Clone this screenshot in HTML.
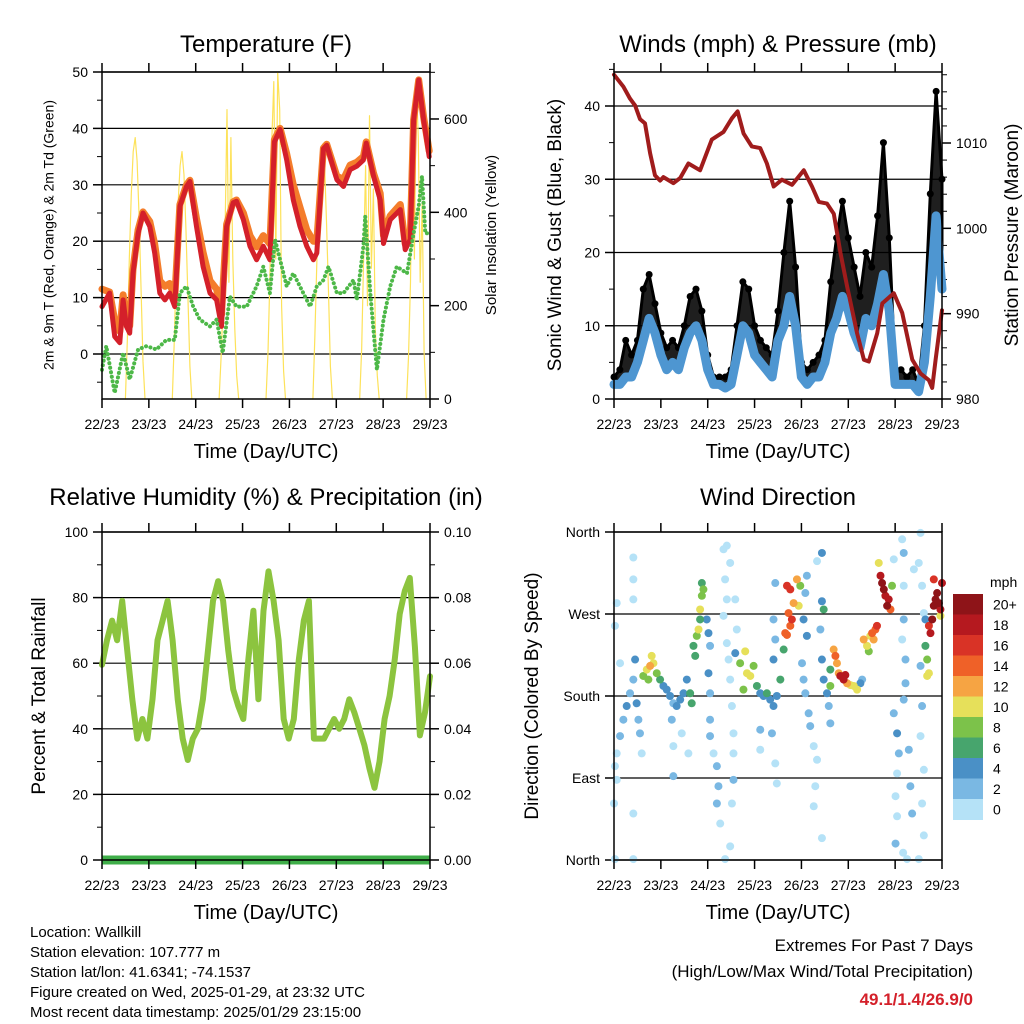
<!DOCTYPE html>
<html><head><meta charset="utf-8"><title>Station Weather Summary</title>
<style>
html,body{margin:0;padding:0;background:#fff;}
svg{display:block;font-family:"Liberation Sans",Arial,sans-serif;}
</style></head>
<body>
<svg id="chart" width="1024" height="1024" viewBox="0 0 1024 1024" xmlns="http://www.w3.org/2000/svg">
<rect x="0" y="0" width="1024" height="1024" fill="#fff"/>
</svg>
<script>
// ---------- DATA ----------
const dayLabels = ["22/23","23/23","24/23","25/23","26/23","27/23","28/23","29/23"];
const totalHours = 168;

const tempHours = [0,3.9,6.5,9.1,10.8,12.5,14.2,15.9,18.5,21,24.5,27,29.6,32.2,34.7,37.3,39.9,43.3,45,48.4,51.8,55.3,58.7,61.2,63.8,67.2,68.9,72.4,75.8,79.2,82.6,86,88.3,91.2,94.6,98,101.4,104.9,108.3,110,113.4,115.1,120.3,123.7,127.1,130.5,133.9,135.3,139.1,142.5,144.2,147.6,152.8,155.3,157.9,159.6,162.2,164.7,167.6];
const temp2m = [8.4,10.8,3.1,2,9.6,4.9,3.7,14.3,21.4,25,22.6,17.9,10.8,9.6,10.8,8.4,26.2,29.7,30.6,22.6,15.5,10.8,9.6,4.9,22.6,26.8,27.1,23.8,19.1,16.7,19.1,16.7,37.6,39.8,34.4,27.3,22.6,19.1,16.7,17.9,36.4,37,30.9,29.7,32.7,33.3,34.4,37.4,31.5,27.3,19.6,23.8,25.6,18.5,20.3,41.5,48.6,41.5,35];
const temp9m = [11.5,11,6,4,10.5,6.5,5,15,22,25.2,23.5,19.5,13,12,12.5,10,26.5,30,30.8,24,18,13,11.5,7,23,27,27.3,25,21,19,21,19.5,38,40,35.5,30,26,22,20,20,36.5,37.2,31.5,31,33.5,34,35,37.6,32,28.5,21,24.5,26.5,19.5,21,41.5,48.6,42,36];
const dewHours = [0,2.2,6.5,10.8,14.2,18.5,22.8,27.9,33,37.3,39.9,43.3,46.7,50.1,55.3,58.7,61.8,65.5,68.9,74.1,79.2,82.6,86,88.6,91.2,94.6,98,103.1,106.6,110,113.4,116,120.3,123.7,128.8,130.5,133.9,134.8,137.4,140.8,144.2,147.6,151,156.2,159.6,162.2,163.9,165.6,167.6];
const dew2m = [-2.8,1.4,-6.9,0.2,-4.5,0.8,1.4,0.8,2.5,2.5,10.8,12,8.4,6.1,4.9,6.1,0.2,10.2,8.4,8.4,12,15.5,10.8,20.3,16.7,12,14.3,10.8,8.4,12,13.1,15.5,10.8,10.8,13.1,9.6,19.1,24.4,10.8,-2.8,6.1,12,15.5,14.3,21.4,26.2,31.5,21.4,21.4];

const solarRiseHour = [12,36,60,84,108,132,156];
const solarDay0 = [0,130,300,440,530,560,510,390,240,80,0];
const solarDay1 = [0,120,280,420,500,530,480,360,220,70,0];
const solarDay2 = [0,90,200,350,620,250,560,300,150,50,0];
const solarDay3 = [0,100,260,560,680,300,700,620,200,60,0];
const solarDay4 = [0,130,290,430,520,546,500,380,230,70,0];
const solarDay5 = [0,110,300,500,200,607,280,450,150,50,0];
const solarDay6 = [0,90,250,600,300,675,560,250,420,100,0];

const windStepHours = 3;
const windSonic = [2,2,3,3,5,8,11,9,6,4,5,4,7,9,10,8,4,2,2,1.5,2,6,10,9,6,5,4,3,8,10,14,10,3,2,3,3,5,9,11,14,12,9,7,11,10,13,17,12,2,2,2,2,1,5,14,25,15];
const windGust = [3,4,8,6,8,15,17,13,9,7,8,7,10,14,15,12,6,3,3,3,4,10,16,15,10,8,7,6,12,20,27,18,5,4,5,6,8,16,22,27,22,18,14,20,18,25,35,22,4,4,3,4,2,10,28,42,30];

const presHours = [0,4.8,8.2,10.8,13.3,15.9,18.5,21,23.6,25.3,30.4,33.9,38.1,44.1,50.1,56.1,60.4,63.3,66.4,70.6,74.9,78.3,81.8,86,91.2,97.2,101.4,104.9,109.1,112.6,116,119.4,124.5,128,130.5,134.8,137.4,143.3,147.6,152.8,157,161.3,163,164.7,168];
const presMb = [1018,1016.6,1015.2,1014.4,1012.8,1012.3,1008.8,1006.2,1005.6,1006,1005.3,1005.9,1007.6,1006.8,1010.4,1011.3,1012.9,1013.7,1011.1,1009.6,1009.4,1007.6,1004.9,1005.7,1005.1,1006.8,1004.9,1003.1,1002.9,1001.7,997.1,993.2,987.7,984.6,984.4,987.7,991.2,992.4,990.1,984.6,983,982.2,981.3,984.6,990.4];

const rhValues = [59.5,67,73,67,79,64,49,37,43,37,49,67,73,79,67,49,37,30.5,37,40,49,64,79,85,79,64,52,47,43,61,76,49,76,88,79,67,43,37,43,61,73,79,37,37,37,40,43,40,43,49,45,40,35,28,22,30,43,50,61,75,82,86,65,38,45,56];
const precipStart = [0, 0];
const precipHours = [0, 168];

const wdHours = [0.5,1.4,3.1,4.8,6.5,8.2,9.9,10.8,11.6,12.5,13.3,14.2,9.9,9.9,9.9,1.4,0.5,3.1,0,9.9,1.4,0.5,9.9,
15,16.8,18.5,19.3,20.2,21.9,17.6,23.6,25.3,27,28.7,30.4,32.1,33.9,35.6,37.3,39,39.8,29.6,34.7,30.4,30.4,38.1,
40.7,42.4,43.3,44.1,45,45,44.1,45.8,41.6,47.5,48.4,49.2,48.4,49.2,49.2,49.2,51,52.7,53.5,52.7,54.4,56.1,57.8,59.5,56.9,57.8,56.1,57.8,58.7,59.5,60.4,61.2,61.2,61.2,60.4,59.5,56.9,62.1,62.9,62.1,
64.6,67.2,68.1,69.8,66.3,71.5,73.2,74.9,76.6,78.3,80,81.7,83.4,85.2,74.9,80.9,74.9,82.6,83.4,82.6,81.7,82.6,81.7,86.9,87.7,
88.6,90.3,89.4,91.1,92,93.7,94.6,95.4,90.3,88.6,97.1,98,98.8,98.8,96.3,97.1,98,99.7,100.5,102.3,104,103.1,102.3,106.5,104,106.5,106.5,107.4,105.7,106.5,107.4,109.1,110,110.8,
110.8,112.5,113.4,114.2,115.1,110.8,115.9,117.6,118.5,119.4,121.1,122.8,124.5,126.2,127.1,
127.9,129.6,130.5,132.2,133.9,134.7,133,131.3,
135.6,136.5,137.3,138.2,139,139.9,140.7,141.6,142.4,143.3,147.6,148.4,148.4,148.4,147.6,149.3,149.3,148.4,143.3,145,145.9,145,144.2,145,144.2,151,151.8,152.7,153.6,156.1,157,157.8,158.7,157,157.8,157,158.7,157.8,158.7,150.1,156.1,148.1,
159.5,159.5,160.4,161.3,160.4,162.1,163,163.8,164.7,165.5,166.4,167.2,168,163.8,161.3,167.2];
const wdDegrees = [103,117,136,154,169,183,198,220,172,154,139,117,332,308,286,282,257,216,62,51,88,1,1,
202,209,213,224,216,205,198,198,191,187,180,172,169,176,183,198,183,172,154,139,125,92,117,
235,246,253,264,290,304,275,297,224,264,249,235,205,183,154,136,117,103,81,62,40,341,345,326,308,286,268,238,220,198,169,139,117,88,62,15,1,286,253,227,
216,229,205,202,187,213,191,183,180,183,176,169,180,198,143,139,121,106,84,304,264,242,220,231,249,
301,297,271,264,282,308,279,301,257,247,264,293,312,246,216,198,183,161,147,125,110,81,59,24,328,337,284,275,253,220,198,183,169,150,
209,231,224,216,205,191,202,198,203,194,192,191,187,194,198,
242,235,229,249,253,257,242,246,
326,312,304,297,290,279,286,275,301,330,352,337,301,264,242,220,194,176,161,139,117,95,70,48,18,121,81,51,319,326,359,301,271,213,169,136,99,62,27,1,1,8,
264,235,220,205,202,249,264,279,286,293,282,275,304,308,257,268];
const wdSpeed = [1,1,2,3,4,3,2,4,4,2,3,1,0,0,0,1,1,1,0,1,1,0,0,
8,10,12,10,11,9,9,6,5,5,4,3,4,4,5,4,7,6,2,1,1,2,0,
7,9,10,7,9,7,10,8,6,4,4,3,4,3,2,2,1,2,2,2,1,0,0,0,0,0,0,1,1,1,1,1,0,2,0,0,0,0,1,4,
8,10,10,10,9,8,6,5,5,6,4,4,5,6,3,2,1,0,0,3,3,3,4,7,14,
16,17,14,16,12,12,10,8,15,15,4,3,2,4,3,3,3,2,2,1,1,0,0,1,0,4,4,6,3,4,4,4,2,3,
7,12,14,13,12,8,18,19,18,12,11,11,10,5,3,
12,10,9,14,14,17,12,11,
11,18,20,21,19,20,18,14,8,0,0,2,1,2,1,2,3,2,2,4,3,1,1,1,3,3,3,2,1,1,0,1,1,2,3,1,1,1,1,0,0,0,
4,6,9,10,10,18,20,21,22,21,20,18,18,16,17,10];
const speedBinLabels = ["20+","18","16","14","12","10","8","6","4","2","0"];
const extremesText = "49.1/1.4/26.9/0";

// ---------- HELPERS ----------
const NS = "http://www.w3.org/2000/svg";
const svg = document.getElementById('chart');
function mk(tag, attrs, name, parent) {
  const el = document.createElementNS(NS, tag);
  for (const k in attrs) el.setAttribute(k, attrs[k]);
  
  
  (parent || svg).appendChild(el);
  return el;
}
function txt(x, y, s, size, anchor, name, extra) {
  const a = {x: x, y: y, 'font-size': size, 'text-anchor': anchor || 'middle', fill: '#000'};
  if (extra) for (const k in extra) a[k] = extra[k];
  const t = mk('text', a, name);
  t.textContent = s;
  return t;
}
function vtxt(x, y, s, size, name) {
  return txt(x, y, s, size, 'middle', name, {transform: 'rotate(-90 ' + x + ' ' + y + ')', 'dominant-baseline': 'middle'});
}
function line(x1, y1, x2, y2, stroke, w, name) {
  return mk('line', {x1: x1, y1: y1, x2: x2, y2: y2, stroke: stroke, 'stroke-width': w}, name);
}
function poly(xs, ys, stroke, w, name, extra) {
  let d = '';
  for (let i = 0; i < xs.length; i++) d += (i ? 'L' : 'M') + xs[i].toFixed(1) + ' ' + ys[i].toFixed(1);
  const a = {d: d, fill: 'none', stroke: stroke, 'stroke-width': w, 'stroke-linejoin': 'round', 'stroke-linecap': 'round'};
  if (extra) for (const k in extra) a[k] = extra[k];
  return mk('path', a, name);
}

const P1 = {l: 102, r: 430, t: 72, b: 399};
const P2 = {l: 614, r: 942, t: 72, b: 399};
const P3 = {l: 102, r: 430, t: 532, b: 860};
const P4 = {l: 614, r: 942, t: 532, b: 860};
function xScale(P) { return h => P.l + h / totalHours * (P.r - P.l); }

function xAxis(P, key) {
  for (let i = 0; i < dayLabels.length; i++) {
    const x = P.l + i * (P.r - P.l) / 7;
    line(x, P.b, x, P.b + 9, '#000', 1.5, key + '-x-tick');
    line(x, P.t, x, P.t - 9, '#000', 1.5, key + '-x-tick-top');
    txt(x, P.b + 30, dayLabels[i], 14, 'middle', key + '-x-tick-label');
  }
  txt((P.l + P.r) / 2, P.b + 59, 'Time (Day/UTC)', 20, 'middle', key + '-x-axis-title');
}
function frame(P, key) {
  mk('rect', {x: P.l, y: P.t, width: P.r - P.l, height: P.b - P.t, fill: 'none', stroke: '#000', 'stroke-width': 1.5}, key + '-frame');
}
function yAxisLeft(P, ticks, labels, yf, minor, key, grid) {
  minor.forEach(v => line(P.l - 5, yf(v), P.l, yf(v), '#000', 1, key + '-y-minor-tick'));
  ticks.forEach((v, i) => {
    line(P.l - 9, yf(v), P.l, yf(v), '#000', 1.5, key + '-y-tick');
    if (grid) line(P.l, yf(v), P.r, yf(v), '#000', 1.2, key + '-gridline');
    txt(P.l - 14, yf(v) + 5, labels[i], 14, 'end', key + '-y-tick-label');
  });
}
function yAxisRight(P, ticks, labels, yf, minor, key) {
  minor.forEach(v => line(P.r, yf(v), P.r + 5, yf(v), '#000', 1, key + '-y2-minor-tick'));
  ticks.forEach((v, i) => {
    line(P.r, yf(v), P.r + 9, yf(v), '#000', 1.5, key + '-y2-tick');
    txt(P.r + 14, yf(v) + 5, labels[i], 14, 'start', key + '-y2-tick-label');
  });
}
function range(a, b, s) { const r = []; for (let v = a; v <= b + 1e-9; v += s) r.push(+v.toFixed(4)); return r; }

// ---------- PANEL 1: TEMPERATURE ----------
(function () {
  const X = xScale(P1);
  const Y = v => 354 - v * 5.64;
  const YS = v => 399 - v * 0.4667;
  txt(266, 52, 'Temperature (F)', 24, 'middle', 'temperature-title');
  yAxisLeft(P1, [0,10,20,30,40,50], ['0','10','20','30','40','50'], Y, range(-5, 45, 10), 'temp', true);
  yAxisRight(P1, [0,200,400,600], ['0','200','400','600'], YS, [100,300,500,700].filter(v=>YS(v)>=P1.t), 'solar');
  const solarDays = [solarDay0, solarDay1, solarDay2, solarDay3, solarDay4, solarDay5, solarDay6];
  solarDays.forEach((arr, d) => {
    poly(arr.map((_, i) => X(solarRiseHour[d] + i)), arr.map(v => YS(v)), '#fde25a', 1.2, 'solar-insolation-line');
  });
  poly(tempHours.map(X), temp9m.map(Y), '#f47d2b', 7, 'temp-9m-line');
  poly(tempHours.map(X), temp2m.map(Y), '#d4202a', 5, 'temp-2m-line');
  poly(dewHours.map(X), dew2m.map(Y), '#4db848', 4, 'dewpoint-2m-line', {'stroke-dasharray': '0.1 4.5'});
  frame(P1, 'temp');
  xAxis(P1, 'temp');
  vtxt(50, 235, '2m & 9m T (Red, Orange) & 2m Td (Green)', 14, 'temp-y-axis-title');
  vtxt(492, 235, 'Solar Insolation (Yellow)', 15, 'solar-y-axis-title');
})();

// ---------- PANEL 2: WINDS & PRESSURE ----------
(function () {
  const X = xScale(P2);
  const Y = v => 399 - v * 7.325;
  const YP = v => 399 - (v - 980) * 8.533;
  txt(778, 52, 'Winds (mph) & Pressure (mb)', 24, 'middle', 'winds-title');
  yAxisLeft(P2, [0,10,20,30,40], ['0','10','20','30','40'], Y, range(5, 45, 5).filter(v => v % 10), 'wind', true);
  yAxisRight(P2, [980,990,1000,1010], ['980','990','1000','1010'], YP, range(982, 1018, 2).filter(v => v % 10), 'pressure');
  const hrs = windGust.map((_, i) => i * windStepHours);
  let d = '';
  hrs.forEach((h, i) => { d += (i ? 'L' : 'M') + X(h).toFixed(1) + ' ' + Y(windGust[i]).toFixed(1); });
  for (let i = hrs.length - 1; i >= 0; i--) d += 'L' + X(hrs[i]).toFixed(1) + ' ' + Y(windSonic[i]).toFixed(1);
  mk('path', {d: d + 'Z', fill: '#000', 'fill-opacity': 0.88, stroke: '#000', 'stroke-width': 3, 'stroke-linejoin': 'round'}, 'gust-cloud');
  hrs.forEach((h, i) => mk('circle', {cx: X(h), cy: Y(windGust[i]), r: 3.5, fill: '#000'}, 'gust-point'));
  poly(hrs.map(X), windSonic.map(Y), '#4e96d1', 9, 'sonic-wind-line');
  poly(presHours.map(X), presMb.map(YP), '#a01c1c', 4, 'pressure-line');
  frame(P2, 'wind');
  xAxis(P2, 'wind');
  vtxt(556, 235, 'Sonic Wind & Gust (Blue, Black)', 19, 'wind-y-axis-title');
  vtxt(1013, 235, 'Station Pressure (Maroon)', 19, 'pressure-y-axis-title');
})();

// ---------- PANEL 3: RH & PRECIP ----------
(function () {
  const X = xScale(P3);
  const Y = v => 860 - v * 3.28;
  const YR = v => 860 - v * 3280;
  txt(266, 505, 'Relative Humidity (%) & Precipitation (in)', 24, 'middle', 'humidity-title');
  yAxisLeft(P3, [0,20,40,60,80,100], ['0','20','40','60','80','100'], Y, range(10, 90, 20), 'rh', true);
  yAxisRight(P3, [0,0.02,0.04,0.06,0.08,0.1], ['0.00','0.02','0.04','0.06','0.08','0.10'], YR, range(0.01, 0.09, 0.02), 'precip');
  const step = totalHours / (rhValues.length - 1);
  poly(rhValues.map((_, i) => X(i * step)), rhValues.map(Y), '#8cc43f', 6, 'humidity-line');
  poly(precipHours.map(X), precipStart.map(YR), '#3fae49', 9, 'precipitation-line', {'stroke-linecap': 'butt'});
  frame(P3, 'rh');
  xAxis(P3, 'rh');
  vtxt(40, 696, 'Percent & Total Rainfall', 19, 'rh-y-axis-title');
})();

// ---------- PANEL 4: WIND DIRECTION ----------
(function () {
  const X = xScale(P4);
  const Y = v => 860 - v / 360 * 328;
  const binColors = ['#b5e2f7','#7ab8e3','#4a90c6','#47a56d','#7cc24a','#e6e05a','#f6a443','#ef6128','#d93326','#b5191f','#8e1418'];
  txt(778, 505, 'Wind Direction', 24, 'middle', 'direction-title');
  yAxisLeft(P4, [0,90,180,270,360], ['North','East','South','West','North'], Y, [], 'dir', true);
  const order = wdSpeed.map((s, i) => i).sort((a, b) => wdSpeed[a] - wdSpeed[b]);
  order.forEach(i => {
    const bin = Math.min(10, Math.floor(wdSpeed[i] / 2));
    mk('circle', {cx: X(wdHours[i]), cy: Y(wdDegrees[i]), r: 4, fill: binColors[bin]}, 'direction-point');
  });
  frame(P4, 'dir');
  xAxis(P4, 'dir');
  vtxt(533, 696, 'Direction (Colored By Speed)', 19, 'dir-y-axis-title');
  const cbTop = 594, boxH = 20.5;
  speedBinLabels.forEach((lab, i) => {
    mk('rect', {x: 953, y: cbTop + i * boxH, width: 30, height: boxH + 0.5, fill: binColors[10 - i]}, 'colorbar-box');
    txt(993, cbTop + i * boxH + boxH / 2 + 5, lab, 14, 'start', 'colorbar-label');
  });
  txt(990, 587, 'mph', 14, 'start', 'colorbar-title');
})();

// ---------- FOOTER ----------
const infoLines = ['Location: Wallkill','Station elevation: 107.777 m','Station lat/lon: 41.6341; -74.1537','Figure created on Wed, 2025-01-29, at 23:32 UTC','Most recent data timestamp: 2025/01/29 23:15:00'];
infoLines.forEach((s, i) => txt(30, 937 + i * 20, s, 15, 'start', 'station-info-line'));
txt(973, 951, 'Extremes For Past 7 Days', 17, 'end', 'extremes-heading');
txt(973, 977, '(High/Low/Max Wind/Total Precipitation)', 17, 'end', 'extremes-subheading');
txt(973, 1005, extremesText, 17, 'end', 'extremes-values', {fill: '#d4202a', 'font-weight': 'bold'});
</script>
</body></html>
